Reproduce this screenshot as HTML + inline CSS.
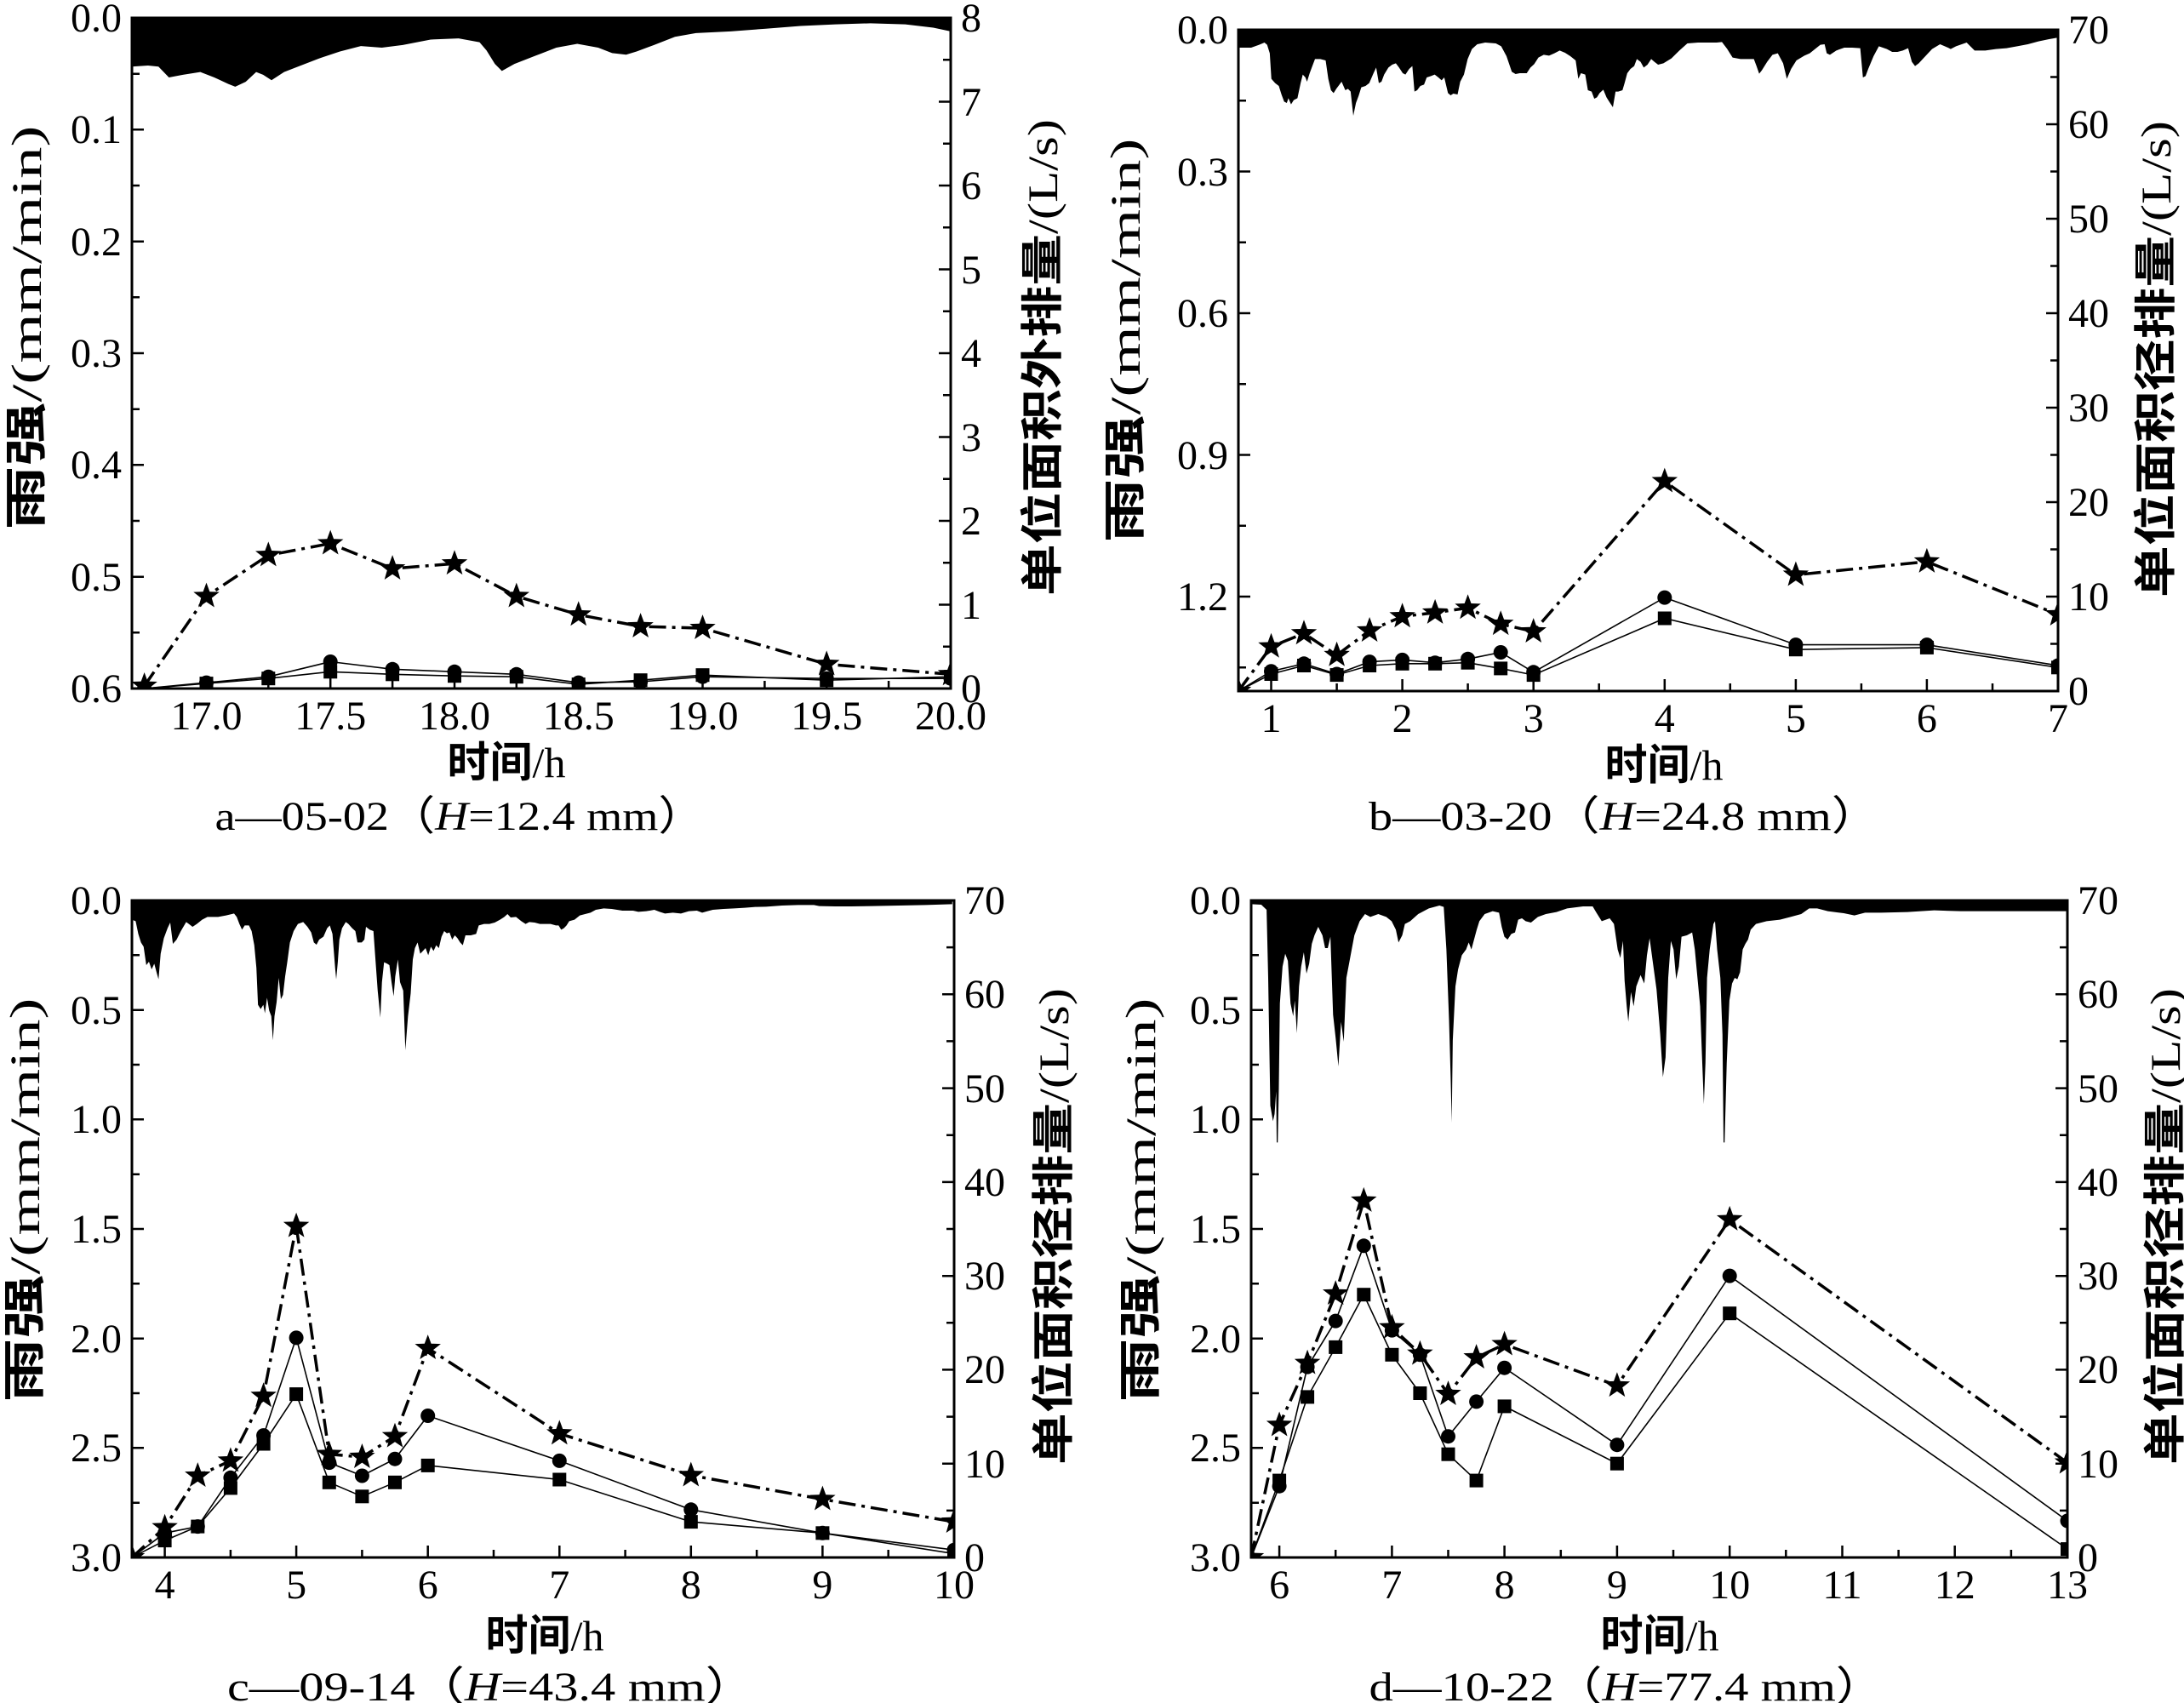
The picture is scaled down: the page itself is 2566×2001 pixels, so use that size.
<!DOCTYPE html>
<html><head><meta charset="utf-8"><style>body{margin:0;background:#fff}svg{display:block}
.tl{font-family:"Liberation Serif",serif;font-size:48px;fill:#000}
.cj{font-family:"Noto Sans CJK SC","WenQuanYi Zen Hei",sans-serif;font-weight:bold}
.ttl{font-family:"Liberation Serif","Noto Sans CJK SC",serif;font-size:50px;fill:#000}
</style></head><body>
<svg width="2566" height="2001" viewBox="0 0 2566 2001" xmlns="http://www.w3.org/2000/svg">
<defs>
<clipPath id="ca"><rect x="155" y="21" width="962" height="788"/></clipPath>
<clipPath id="cb"><rect x="1455" y="35" width="963" height="777"/></clipPath>
<clipPath id="cc"><rect x="155" y="1058" width="966" height="772"/></clipPath>
<clipPath id="cd"><rect x="1470" y="1058" width="959" height="772"/></clipPath>
<path id="st" d="M0,-16 L3.9,-5.35 L15.22,-4.94 L6.3,2.05 L9.4,12.94 L0,6.6 L-9.4,12.94 L-6.3,2.05 L-15.22,-4.94 L-3.9,-5.35Z"/>
<circle id="ci" r="8.5"/>
<rect id="sq" x="-8" y="-8" width="16" height="16"/>
</defs>
<rect width="2566" height="2001" fill="#fff"/>

<!-- ================= PANEL A ================= -->
<g clip-path="url(#ca)">
<polygon transform="translate(155,21) scale(0.8201,0.6365) translate(-192,-30)" fill="#000" points="192,30 192,120 215,118 230,120 245,140 265,135 290,130 310,140 330,152 340,157 355,148 370,130 380,135 392,145 410,130 430,120 460,105 490,92 520,82 550,85 580,80 620,70 660,68 690,75 700,90 712,115 722,128 740,115 770,100 800,85 830,78 860,85 880,95 900,98 915,92 940,80 970,65 1000,58 1050,55 1100,50 1150,45 1200,42 1250,40 1300,42 1340,48 1365,55 1365,30"/>
<g fill="none" stroke="#000">
<polyline stroke-width="1.6" points="169.6,809 242.5,802.1 315.3,795.2 388.2,777.5 461.1,786.3 534,789.3 606.8,792.3 679.7,802.1 752.6,801.1 825.5,795.2 971.2,797.2 1117,797.2"/>
<polyline stroke-width="1.6" points="169.6,809 242.5,803.1 315.3,797.2 388.2,789.3 461.1,792.3 534,794.2 606.8,795.2 679.7,804.1 752.6,799.2 825.5,793.2 971.2,799.2 1117,795.2"/>
<polyline stroke-width="3.5" stroke-dasharray="20 7 4 7" points="169.6,806 242.5,700.6 315.3,652.4 388.2,638.6 461.1,668.1 534,662.2 606.8,700.6 679.7,722.3 752.6,736.1 825.5,738.1 971.2,780.4 1117,792.3"/>
</g>
<g fill="#000">
<use href="#ci" x="169.6" y="809"/><use href="#ci" x="242.5" y="802.1"/><use href="#ci" x="315.3" y="795.2"/><use href="#ci" x="388.2" y="777.5"/><use href="#ci" x="461.1" y="786.3"/><use href="#ci" x="534" y="789.3"/><use href="#ci" x="606.8" y="792.3"/><use href="#ci" x="679.7" y="802.1"/><use href="#ci" x="752.6" y="801.1"/><use href="#ci" x="825.5" y="795.2"/><use href="#ci" x="971.2" y="797.2"/><use href="#ci" x="1117" y="797.2"/>
<use href="#sq" x="242.5" y="803.1"/><use href="#sq" x="315.3" y="797.2"/><use href="#sq" x="388.2" y="789.3"/><use href="#sq" x="461.1" y="792.3"/><use href="#sq" x="534" y="794.2"/><use href="#sq" x="606.8" y="795.2"/><use href="#sq" x="679.7" y="804.1"/><use href="#sq" x="752.6" y="799.2"/><use href="#sq" x="825.5" y="793.2"/><use href="#sq" x="971.2" y="799.2"/><use href="#sq" x="1117" y="795.2"/>
<use href="#st" x="169.6" y="806"/><use href="#st" x="242.5" y="700.6"/><use href="#st" x="315.3" y="652.4"/><use href="#st" x="388.2" y="638.6"/><use href="#st" x="461.1" y="668.1"/><use href="#st" x="534" y="662.2"/><use href="#st" x="606.8" y="700.6"/><use href="#st" x="679.7" y="722.3"/><use href="#st" x="752.6" y="736.1"/><use href="#st" x="825.5" y="738.1"/><use href="#st" x="971.2" y="780.4"/><use href="#st" x="1117" y="792.3"/>
</g>
</g>
<rect x="155" y="21" width="962" height="788" fill="none" stroke="#000" stroke-width="3"/>
<path fill="none" stroke="#000" stroke-width="2.5" d="M169.6,809v-9 M242.5,809v-14 M315.3,809v-9 M388.2,809v-14 M461.1,809v-9 M534,809v-14 M606.8,809v-9 M679.7,809v-14 M752.6,809v-9 M825.5,809v-14 M898.4,809v-9 M971.2,809v-14 M1044.1,809v-9
M155,86.7h9 M155,152.3h14 M155,218h9 M155,283.7h14 M155,349.3h9 M155,415h14 M155,480.7h9 M155,546.3h14 M155,612h9 M155,677.7h14 M155,743.3h9
M1117,759.75h-9 M1117,710.5h-14 M1117,661.25h-9 M1117,612h-14 M1117,562.75h-9 M1117,513.5h-14 M1117,464.25h-9 M1117,415h-14 M1117,365.75h-9 M1117,316.5h-14 M1117,267.25h-9 M1117,218h-14 M1117,168.75h-9 M1117,119.5h-14 M1117,70.25h-9"/>
<g class="tl" text-anchor="end">
<text x="143" y="37">0.0</text><text x="143" y="168">0.1</text><text x="143" y="300">0.2</text><text x="143" y="431">0.3</text><text x="143" y="562">0.4</text><text x="143" y="694">0.5</text><text x="143" y="825">0.6</text>
</g>
<g class="tl" text-anchor="start">
<text x="1129" y="37">8</text><text x="1129" y="136">7</text><text x="1129" y="234">6</text><text x="1129" y="333">5</text><text x="1129" y="431">4</text><text x="1129" y="530">3</text><text x="1129" y="628">2</text><text x="1129" y="727">1</text><text x="1129" y="825">0</text>
</g>
<g class="tl" text-anchor="middle">
<text x="242.5" y="857">17.0</text><text x="388.2" y="857">17.5</text><text x="534" y="857">18.0</text><text x="679.7" y="857">18.5</text><text x="825.5" y="857">19.0</text><text x="971.2" y="857">19.5</text><text x="1117" y="857">20.0</text>
</g>
<text class="ttl" transform="translate(48,385) rotate(-90)" text-anchor="middle" textLength="475" lengthAdjust="spacingAndGlyphs"><tspan class="cj">雨强</tspan>/(mm/min)</text>
<text class="ttl" transform="translate(1242,420) rotate(-90)" text-anchor="middle" textLength="560" lengthAdjust="spacingAndGlyphs"><tspan class="cj">单位面积外排量</tspan>/(L/s)</text>
<text class="ttl" x="595" y="913" text-anchor="middle"><tspan class="cj">时间</tspan>/h</text>
<text class="tl" x="540" y="975" text-anchor="middle" textLength="575" lengthAdjust="spacingAndGlyphs">a—05-02（<tspan font-style="italic">H</tspan>=12.4 mm）</text>

<!-- ================= PANEL B ================= -->
<g clip-path="url(#cb)">
<polygon transform="translate(1445,26) scale(0.625,0.33333)" fill="#000" points="18,28 18,90 40,90 55,80 65,72 70,80 75,110 78,200 85,215 92,225 97,255 102,280 107,285 110,268 115,290 120,275 127,268 133,215 137,185 142,195 145,210 150,180 155,155 160,130 170,130 180,135 185,200 190,240 195,250 200,235 210,210 217,240 222,235 227,245 232,330 237,285 242,260 247,230 255,225 262,215 270,180 275,160 280,215 285,210 290,185 298,160 305,150 312,145 318,160 325,180 330,185 337,165 343,155 347,245 352,240 358,225 365,220 370,195 378,190 385,185 392,195 398,205 403,195 410,250 415,258 420,252 428,255 433,210 440,185 447,130 455,95 465,78 480,72 500,75 510,85 520,120 530,175 537,183 545,180 558,180 565,160 572,148 580,125 590,115 600,118 610,110 620,100 630,108 640,120 650,135 655,200 660,180 668,185 673,240 680,245 685,270 690,265 695,250 702,238 708,265 713,280 720,300 725,245 730,245 738,240 742,215 747,180 753,165 760,155 765,130 772,140 778,160 785,150 792,130 798,140 805,150 815,145 830,128 845,100 860,75 880,72 900,72 915,72 925,70 935,95 945,125 960,130 985,130 990,155 995,182 1000,170 1010,140 1020,115 1030,110 1040,145 1047,200 1055,165 1065,135 1080,118 1090,110 1100,95 1110,80 1118,78 1122,110 1128,115 1140,100 1155,90 1170,90 1185,92 1190,195 1195,190 1200,165 1210,120 1220,85 1235,95 1245,105 1255,105 1265,100 1275,92 1282,140 1288,155 1295,145 1305,125 1320,95 1335,78 1350,90 1355,95 1365,85 1385,72 1400,100 1420,100 1440,95 1460,92 1480,85 1500,78 1520,68 1540,60 1555,55 1555,28"/>
<g fill="none" stroke="#000">
<polyline stroke-width="1.6" points="1455,812 1493.5,788.7 1532,779.8 1570.6,792 1609.1,777.6 1647.6,775.4 1686.1,778.7 1724.6,774.3 1763.2,766.5 1801.7,789.8 1955.8,702.1 2109.9,757.6 2263.9,757.6 2418,782"/>
<polyline stroke-width="1.6" points="1455,812 1493.5,792 1532,782 1570.6,793.1 1609.1,782 1647.6,779.8 1686.1,779.8 1724.6,778.7 1763.2,785.4 1801.7,793.1 1955.8,726.5 2109.9,763.2 2263.9,760.9 2418,784.3"/>
<polyline stroke-width="3.5" stroke-dasharray="20 7 4 7" points="1455,812 1493.5,759.8 1532,744.3 1570.6,769.8 1609.1,741 1647.6,724.3 1686.1,719.9 1724.6,714.3 1763.2,733.2 1801.7,742.1 1955.8,565.6 2109.9,675.5 2263.9,659.9 2418,722.1"/>
</g>
<g fill="#000">
<use href="#ci" x="1493.5" y="788.7"/><use href="#ci" x="1532" y="779.8"/><use href="#ci" x="1570.6" y="792"/><use href="#ci" x="1609.1" y="777.6"/><use href="#ci" x="1647.6" y="775.4"/><use href="#ci" x="1686.1" y="778.7"/><use href="#ci" x="1724.6" y="774.3"/><use href="#ci" x="1763.2" y="766.5"/><use href="#ci" x="1801.7" y="789.8"/><use href="#ci" x="1955.8" y="702.1"/><use href="#ci" x="2109.9" y="757.6"/><use href="#ci" x="2263.9" y="757.6"/><use href="#ci" x="2418" y="782"/>
<use href="#sq" x="1493.5" y="792"/><use href="#sq" x="1532" y="782"/><use href="#sq" x="1570.6" y="793.1"/><use href="#sq" x="1609.1" y="782"/><use href="#sq" x="1647.6" y="779.8"/><use href="#sq" x="1686.1" y="779.8"/><use href="#sq" x="1724.6" y="778.7"/><use href="#sq" x="1763.2" y="785.4"/><use href="#sq" x="1801.7" y="793.1"/><use href="#sq" x="1955.8" y="726.5"/><use href="#sq" x="2109.9" y="763.2"/><use href="#sq" x="2263.9" y="760.9"/><use href="#sq" x="2418" y="784.3"/>
<use href="#st" x="1455" y="812"/><use href="#st" x="1493.5" y="759.8"/><use href="#st" x="1532" y="744.3"/><use href="#st" x="1570.6" y="769.8"/><use href="#st" x="1609.1" y="741"/><use href="#st" x="1647.6" y="724.3"/><use href="#st" x="1686.1" y="719.9"/><use href="#st" x="1724.6" y="714.3"/><use href="#st" x="1763.2" y="733.2"/><use href="#st" x="1801.7" y="742.1"/><use href="#st" x="1955.8" y="565.6"/><use href="#st" x="2109.9" y="675.5"/><use href="#st" x="2263.9" y="659.9"/><use href="#st" x="2418" y="722.1"/>
</g>
</g>
<rect x="1455" y="35" width="963" height="777" fill="none" stroke="#000" stroke-width="3"/>
<path fill="none" stroke="#000" stroke-width="2.5" d="M1493.5,812v-14 M1570.6,812v-9 M1647.6,812v-14 M1724.6,812v-9 M1801.7,812v-14 M1878.7,812v-9 M1955.8,812v-14 M2032.8,812v-9 M2109.9,812v-14 M2186.9,812v-9 M2263.9,812v-14 M2341,812v-9
M1455,118.25h9 M1455,201.5h14 M1455,284.75h9 M1455,368h14 M1455,451.25h9 M1455,534.5h14 M1455,617.75h9 M1455,701h14 M1455,784.25h9
M2418,756.5h-9 M2418,701h-14 M2418,645.5h-9 M2418,590h-14 M2418,534.5h-9 M2418,479h-14 M2418,423.5h-9 M2418,368h-14 M2418,312.5h-9 M2418,257h-14 M2418,201.5h-9 M2418,146h-14 M2418,90.5h-9"/>
<g class="tl" text-anchor="end">
<text x="1443" y="51">0.0</text><text x="1443" y="218">0.3</text><text x="1443" y="384">0.6</text><text x="1443" y="551">0.9</text><text x="1443" y="717">1.2</text>
</g>
<g class="tl" text-anchor="start">
<text x="2430" y="51">70</text><text x="2430" y="162">60</text><text x="2430" y="273">50</text><text x="2430" y="384">40</text><text x="2430" y="495">30</text><text x="2430" y="606">20</text><text x="2430" y="717">10</text><text x="2430" y="828">0</text>
</g>
<g class="tl" text-anchor="middle">
<text x="1493.5" y="860">1</text><text x="1647.6" y="860">2</text><text x="1801.7" y="860">3</text><text x="1955.8" y="860">4</text><text x="2109.9" y="860">5</text><text x="2263.9" y="860">6</text><text x="2418" y="860">7</text>
</g>
<text class="ttl" transform="translate(1339,400) rotate(-90)" text-anchor="middle" textLength="475" lengthAdjust="spacingAndGlyphs"><tspan class="cj">雨强</tspan>/(mm/min)</text>
<text class="ttl" transform="translate(2550,422) rotate(-90)" text-anchor="middle" textLength="560" lengthAdjust="spacingAndGlyphs"><tspan class="cj">单位面积径排量</tspan>/(L/s)</text>
<text class="ttl" x="1955" y="916" text-anchor="middle"><tspan class="cj">时间</tspan>/h</text>
<text class="tl" x="1908" y="975" text-anchor="middle" textLength="600" lengthAdjust="spacingAndGlyphs">b—03-20（<tspan font-style="italic">H</tspan>=24.8 mm）</text>

<!-- ================= PANEL C ================= -->
<g clip-path="url(#cc)">
<polygon transform="translate(150,1054) scale(0.625,0.33333)" fill="#000" points="8,12 8,80 15,85 20,130 25,160 30,175 35,240 40,228 45,255 50,235 55,270 58,290 62,200 68,145 75,110 80,90 85,165 92,150 100,120 110,88 115,95 122,105 130,95 140,80 150,70 170,70 185,65 200,58 205,70 210,95 215,115 220,100 228,100 233,120 238,170 242,250 245,380 250,395 255,380 258,410 262,355 266,400 270,420 273,505 276,420 280,370 284,285 288,360 292,345 296,280 300,230 305,160 312,120 320,95 330,88 338,105 345,125 350,160 355,168 360,150 368,140 375,110 380,100 385,130 390,250 392,290 395,230 398,150 403,110 410,88 415,95 422,110 428,120 432,160 440,160 445,150 448,105 455,115 462,120 465,200 470,330 475,425 478,300 482,230 488,235 492,240 496,300 500,350 503,280 508,220 512,300 518,330 522,540 527,420 532,340 536,220 540,180 545,160 550,200 555,190 560,180 565,205 570,175 575,190 580,170 585,180 590,140 595,120 600,128 605,125 610,150 615,135 620,145 625,160 630,170 635,135 645,135 655,130 660,100 670,95 680,95 690,90 700,80 708,70 714,60 720,72 730,70 740,85 748,95 755,88 765,90 775,95 785,95 795,95 805,100 810,100 815,115 820,110 825,100 830,85 840,80 850,65 870,55 880,45 895,40 910,42 930,48 950,48 960,52 975,50 990,45 1000,52 1010,58 1025,55 1040,58 1055,50 1070,48 1080,55 1090,50 1100,45 1120,42 1140,40 1160,38 1180,35 1200,34 1230,30 1260,28 1290,28 1300,32 1330,33 1360,33 1400,32 1450,30 1500,28 1550,25 1550,12"/>
<g fill="none" stroke="#000">
<polyline stroke-width="1.6" points="155,1830 193.6,1801.3 232.3,1793.6 270.9,1736.3 309.6,1686.6 348.1,1571.9 386.8,1718.6 425.4,1734 464,1714.2 502.7,1663.5 657.3,1716.4 811.8,1773.8 966.4,1801.3 1121,1821.2"/>
<polyline stroke-width="1.6" points="155,1830 193.6,1810.1 232.3,1793.6 270.9,1748.4 309.6,1696.5 348.1,1638.1 386.8,1741.8 425.4,1758.3 464,1741.8 502.7,1721.9 657.3,1738.5 811.8,1788.1 966.4,1801.3 1121,1825.6"/>
<polyline stroke-width="3.5" stroke-dasharray="20 7 4 7" points="155,1830 193.6,1794.7 232.3,1734.1 270.9,1716.4 309.6,1640.3 348.1,1440.7 386.8,1708.7 425.4,1712 464,1687.7 502.7,1584.1 657.3,1684.4 811.8,1733.5 966.4,1761.6 1121,1788.1"/>
</g>
<g fill="#000">
<use href="#ci" x="193.6" y="1801.3"/><use href="#ci" x="232.3" y="1793.6"/><use href="#ci" x="270.9" y="1736.3"/><use href="#ci" x="309.6" y="1686.6"/><use href="#ci" x="348.1" y="1571.9"/><use href="#ci" x="386.8" y="1718.6"/><use href="#ci" x="425.4" y="1734"/><use href="#ci" x="464" y="1714.2"/><use href="#ci" x="502.7" y="1663.5"/><use href="#ci" x="657.3" y="1716.4"/><use href="#ci" x="811.8" y="1773.8"/><use href="#ci" x="966.4" y="1801.3"/><use href="#ci" x="1121" y="1821.2"/>
<use href="#sq" x="193.6" y="1810.1"/><use href="#sq" x="232.3" y="1793.6"/><use href="#sq" x="270.9" y="1748.4"/><use href="#sq" x="309.6" y="1696.5"/><use href="#sq" x="348.1" y="1638.1"/><use href="#sq" x="386.8" y="1741.8"/><use href="#sq" x="425.4" y="1758.3"/><use href="#sq" x="464" y="1741.8"/><use href="#sq" x="502.7" y="1721.9"/><use href="#sq" x="657.3" y="1738.5"/><use href="#sq" x="811.8" y="1788.1"/><use href="#sq" x="966.4" y="1801.3"/><use href="#sq" x="1121" y="1825.6"/>
<use href="#st" x="155" y="1830"/><use href="#st" x="193.6" y="1794.7"/><use href="#st" x="232.3" y="1734.1"/><use href="#st" x="270.9" y="1716.4"/><use href="#st" x="309.6" y="1640.3"/><use href="#st" x="348.1" y="1440.7"/><use href="#st" x="386.8" y="1708.7"/><use href="#st" x="425.4" y="1712"/><use href="#st" x="464" y="1687.7"/><use href="#st" x="502.7" y="1584.1"/><use href="#st" x="657.3" y="1684.4"/><use href="#st" x="811.8" y="1733.5"/><use href="#st" x="966.4" y="1761.6"/><use href="#st" x="1121" y="1788.1"/>
</g>
</g>
<rect x="155" y="1058" width="966" height="772" fill="none" stroke="#000" stroke-width="3"/>
<path fill="none" stroke="#000" stroke-width="2.5" d="M193.6,1830v-14 M270.9,1830v-9 M348.1,1830v-14 M425.4,1830v-9 M502.7,1830v-14 M580,1830v-9 M657.3,1830v-14 M734.6,1830v-9 M811.8,1830v-14 M889.1,1830v-9 M966.4,1830v-14 M1043.7,1830v-9
M155,1122.3h9 M155,1186.7h14 M155,1251h9 M155,1315.3h14 M155,1379.7h9 M155,1444h14 M155,1508.3h9 M155,1572.7h14 M155,1637h9 M155,1701.3h14 M155,1765.7h9
M1121,1774.9h-9 M1121,1719.7h-14 M1121,1664.6h-9 M1121,1609.4h-14 M1121,1554.3h-9 M1121,1499.2h-14 M1121,1444h-9 M1121,1388.9h-14 M1121,1333.7h-9 M1121,1278.6h-14 M1121,1223.4h-9 M1121,1168.3h-14 M1121,1113.1h-9"/>
<g class="tl" text-anchor="end">
<text x="143" y="1074">0.0</text><text x="143" y="1203">0.5</text><text x="143" y="1331">1.0</text><text x="143" y="1460">1.5</text><text x="143" y="1589">2.0</text><text x="143" y="1717">2.5</text><text x="143" y="1846">3.0</text>
</g>
<g class="tl" text-anchor="start">
<text x="1133" y="1074">70</text><text x="1133" y="1184">60</text><text x="1133" y="1295">50</text><text x="1133" y="1405">40</text><text x="1133" y="1515">30</text><text x="1133" y="1625">20</text><text x="1133" y="1736">10</text><text x="1133" y="1846">0</text>
</g>
<g class="tl" text-anchor="middle">
<text x="193.6" y="1878">4</text><text x="348.1" y="1878">5</text><text x="502.7" y="1878">6</text><text x="657.3" y="1878">7</text><text x="811.8" y="1878">8</text><text x="966.4" y="1878">9</text><text x="1121" y="1878">10</text>
</g>
<text class="ttl" transform="translate(46,1410) rotate(-90)" text-anchor="middle" textLength="475" lengthAdjust="spacingAndGlyphs"><tspan class="cj">雨强</tspan>/(mm/min)</text>
<text class="ttl" transform="translate(1255,1441) rotate(-90)" text-anchor="middle" textLength="560" lengthAdjust="spacingAndGlyphs"><tspan class="cj">单位面积径排量</tspan>/(L/s)</text>
<text class="ttl" x="640" y="1939" text-anchor="middle"><tspan class="cj">时间</tspan>/h</text>
<text class="tl" x="577" y="1998" text-anchor="middle" textLength="620" lengthAdjust="spacingAndGlyphs">c—09-14（<tspan font-style="italic">H</tspan>=43.4 mm）</text>

<!-- ================= PANEL D ================= -->
<g clip-path="url(#cd)">
<polygon transform="translate(1460,1049) scale(0.625,0.33333)" fill="#000" points="15,28 15,40 35,42 45,60 48,300 52,750 57,805 60,780 63,700 64,880 66,880 68,690 70,390 75,260 80,215 85,240 90,390 95,435 98,380 102,495 106,330 110,260 115,210 120,285 125,250 130,180 135,150 142,120 150,150 155,195 160,195 165,155 170,430 175,515 180,612 185,455 190,525 195,300 200,250 205,200 210,150 220,100 230,75 240,85 255,75 270,85 280,100 288,130 293,175 300,150 305,110 315,100 330,75 350,55 370,45 378,50 383,200 388,450 391,650 393,810 395,520 400,330 405,270 412,220 420,200 425,175 430,200 435,165 440,130 445,100 455,75 470,65 482,70 487,120 492,155 498,165 505,145 512,140 518,95 525,90 532,100 542,105 555,85 570,75 590,68 610,55 640,48 658,48 665,70 675,100 690,90 698,110 705,200 710,230 715,170 718,310 722,400 725,455 730,350 735,400 740,330 748,290 755,320 760,220 765,160 770,230 778,340 785,500 790,650 795,580 800,300 805,170 810,200 815,305 820,260 825,155 835,150 845,140 850,200 855,300 860,400 864,600 867,745 870,600 873,300 878,200 885,110 888,100 892,200 898,300 902,500 904,880 906,880 910,600 915,380 920,320 925,300 930,305 935,280 940,200 945,180 950,165 955,130 965,110 985,100 1010,95 1030,85 1050,75 1065,55 1080,55 1100,65 1130,72 1150,80 1170,70 1200,70 1250,68 1300,62 1350,65 1400,65 1450,65 1500,65 1550,65 1550,28"/>
<g fill="none" stroke="#000">
<polyline stroke-width="1.6" points="1470,1830 1503.1,1746.2 1536.1,1606.1 1569.2,1552.1 1602.3,1463.8 1635.4,1563.1 1668.4,1591.8 1701.5,1687.7 1734.6,1646.9 1767.6,1607.2 1899.9,1697.7 2032.2,1499.1 2429,1787"/>
<polyline stroke-width="1.6" points="1470,1830 1503.1,1739.6 1536.1,1641.4 1569.2,1582.9 1602.3,1521.2 1635.4,1591.8 1668.4,1637 1701.5,1708.7 1734.6,1739.6 1767.6,1652.4 1899.9,1719.7 2032.2,1543.2 2429,1820.1"/>
<polyline stroke-width="3.5" stroke-dasharray="20 7 4 7" points="1470,1830 1503.1,1674.5 1536.1,1601.7 1569.2,1520.1 1602.3,1410.9 1635.4,1559.8 1668.4,1590.7 1701.5,1638.1 1734.6,1595.1 1767.6,1579.6 1899.9,1628.2 2032.2,1432.9 2429,1718.6"/>
</g>
<g fill="#000">
<use href="#ci" x="1503.1" y="1746.2"/><use href="#ci" x="1536.1" y="1606.1"/><use href="#ci" x="1569.2" y="1552.1"/><use href="#ci" x="1602.3" y="1463.8"/><use href="#ci" x="1635.4" y="1563.1"/><use href="#ci" x="1668.4" y="1591.8"/><use href="#ci" x="1701.5" y="1687.7"/><use href="#ci" x="1734.6" y="1646.9"/><use href="#ci" x="1767.6" y="1607.2"/><use href="#ci" x="1899.9" y="1697.7"/><use href="#ci" x="2032.2" y="1499.1"/><use href="#ci" x="2429" y="1787"/>
<use href="#sq" x="1503.1" y="1739.6"/><use href="#sq" x="1536.1" y="1641.4"/><use href="#sq" x="1569.2" y="1582.9"/><use href="#sq" x="1602.3" y="1521.2"/><use href="#sq" x="1635.4" y="1591.8"/><use href="#sq" x="1668.4" y="1637"/><use href="#sq" x="1701.5" y="1708.7"/><use href="#sq" x="1734.6" y="1739.6"/><use href="#sq" x="1767.6" y="1652.4"/><use href="#sq" x="1899.9" y="1719.7"/><use href="#sq" x="2032.2" y="1543.2"/><use href="#sq" x="2429" y="1820.1"/>
<use href="#st" x="1470" y="1830"/><use href="#st" x="1503.1" y="1674.5"/><use href="#st" x="1536.1" y="1601.7"/><use href="#st" x="1569.2" y="1520.1"/><use href="#st" x="1602.3" y="1410.9"/><use href="#st" x="1635.4" y="1559.8"/><use href="#st" x="1668.4" y="1590.7"/><use href="#st" x="1701.5" y="1638.1"/><use href="#st" x="1734.6" y="1595.1"/><use href="#st" x="1767.6" y="1579.6"/><use href="#st" x="1899.9" y="1628.2"/><use href="#st" x="2032.2" y="1432.9"/><use href="#st" x="2429" y="1718.6"/>
</g>
</g>
<rect x="1470" y="1058" width="959" height="772" fill="none" stroke="#000" stroke-width="3"/>
<path fill="none" stroke="#000" stroke-width="2.5" d="M1503.1,1830v-14 M1569.2,1830v-9 M1635.4,1830v-14 M1701.5,1830v-9 M1767.6,1830v-14 M1833.8,1830v-9 M1899.9,1830v-14 M1966,1830v-9 M2032.2,1830v-14 M2098.3,1830v-9 M2164.5,1830v-14 M2230.6,1830v-9 M2296.7,1830v-14 M2362.9,1830v-9
M1470,1122.3h9 M1470,1186.7h14 M1470,1251h9 M1470,1315.3h14 M1470,1379.7h9 M1470,1444h14 M1470,1508.3h9 M1470,1572.7h14 M1470,1637h9 M1470,1701.3h14 M1470,1765.7h9
M2429,1774.9h-9 M2429,1719.7h-14 M2429,1664.6h-9 M2429,1609.4h-14 M2429,1554.3h-9 M2429,1499.2h-14 M2429,1444h-9 M2429,1388.9h-14 M2429,1333.7h-9 M2429,1278.6h-14 M2429,1223.4h-9 M2429,1168.3h-14 M2429,1113.1h-9"/>
<g class="tl" text-anchor="end">
<text x="1458" y="1074">0.0</text><text x="1458" y="1203">0.5</text><text x="1458" y="1331">1.0</text><text x="1458" y="1460">1.5</text><text x="1458" y="1589">2.0</text><text x="1458" y="1717">2.5</text><text x="1458" y="1846">3.0</text>
</g>
<g class="tl" text-anchor="start">
<text x="2441" y="1074">70</text><text x="2441" y="1184">60</text><text x="2441" y="1295">50</text><text x="2441" y="1405">40</text><text x="2441" y="1515">30</text><text x="2441" y="1625">20</text><text x="2441" y="1736">10</text><text x="2441" y="1846">0</text>
</g>
<g class="tl" text-anchor="middle">
<text x="1503.1" y="1878">6</text><text x="1635.4" y="1878">7</text><text x="1767.6" y="1878">8</text><text x="1899.9" y="1878">9</text><text x="2032.2" y="1878">10</text><text x="2164.5" y="1878">11</text><text x="2296.7" y="1878">12</text><text x="2429" y="1878">13</text>
</g>
<text class="ttl" transform="translate(1357,1410) rotate(-90)" text-anchor="middle" textLength="475" lengthAdjust="spacingAndGlyphs"><tspan class="cj">雨强</tspan>/(mm/min)</text>
<text class="ttl" transform="translate(2561,1441) rotate(-90)" text-anchor="middle" textLength="560" lengthAdjust="spacingAndGlyphs"><tspan class="cj">单位面积径排量</tspan>/(L/s)</text>
<text class="ttl" x="1950" y="1939" text-anchor="middle"><tspan class="cj">时间</tspan>/h</text>
<text class="tl" x="1911" y="1998" text-anchor="middle" textLength="605" lengthAdjust="spacingAndGlyphs">d—10-22（<tspan font-style="italic">H</tspan>=77.4 mm）</text>
</svg>
</body></html>
